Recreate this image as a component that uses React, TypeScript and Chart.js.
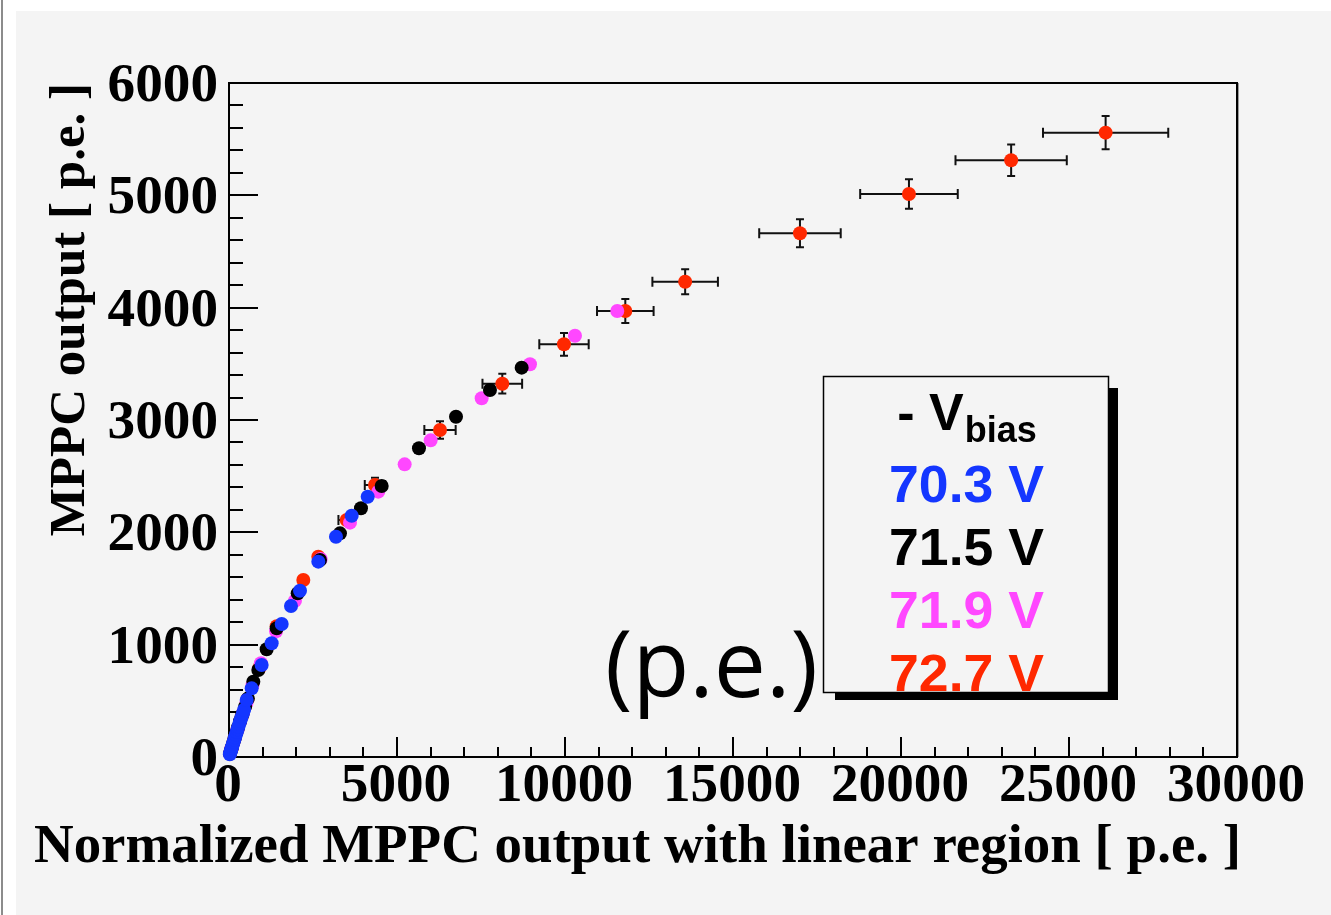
import React, { useEffect, useRef } from "react";
import { Chart, registerables } from "chart.js";

Chart.register(...registerables);

// ---- data ----
const blueX = [25, 40, 55, 70, 85, 100, 120, 140, 160, 180, 205, 230, 255, 280, 310, 340, 375, 410, 450, 526, 675, 972, 1270, 1568, 1845, 2113, 2658, 3184, 3651, 4128];
const blueY = [25, 40, 54, 69, 84, 99, 118, 137, 156, 175, 199, 222, 246, 269, 297, 325, 355, 386, 420, 507, 611, 819, 1012, 1184, 1344, 1480, 1739, 1961, 2148, 2317];

const blackX = [30, 60, 90, 130, 170, 220, 270, 330, 400, 480, 560, 724, 873, 1121, 1419, 2044, 2708, 3303, 3928, 4544, 5654, 6756, 7767, 8710];
const blackY = [30, 59, 89, 128, 167, 215, 262, 318, 378, 448, 520, 670, 774, 959, 1146, 1457, 1754, 1991, 2214, 2412, 2748, 3029, 3267, 3466];

const magentaX = [30, 70, 120, 180, 250, 330, 420, 520, 700, 950, 1400, 1964, 2729, 3601, 4443, 5228, 6002, 7520, 8958, 10297, 11556];
const magentaY = [30, 69, 118, 175, 240, 316, 395, 480, 640, 835, 1120, 1391, 1763, 2086, 2362, 2605, 2819, 3193, 3496, 3750, 3970];

const redX = [30, 80, 150, 250, 380, 550, 900, 1420, 2212, 2658, 3502, 4345, 6280, 8134, 9970, 11795, 13576, 16993, 20237, 23278, 26090];
const redY = [30, 79, 147, 242, 362, 512, 790, 1165, 1576, 1783, 2110, 2421, 2911, 3323, 3674, 3970, 4231, 4662, 5012, 5312, 5558];
const redXErr = [2, 6, 10, 17, 27, 38, 63, 99, 155, 186, 245, 304, 466, 590, 735, 842, 975, 1213, 1452, 1656, 1864];
const redYErr = [1, 2, 4, 7, 10, 14, 22, 32, 43, 48, 57, 65, 77, 88, 101, 107, 111, 125, 132, 141, 148];

const seriesLabels = ["70.3 V", "71.5 V", "71.9 V", "72.7 V"];
const seriesColors = ["#1436ff", "#000000", "#ff47ff", "#ff2800"];

const xRange = [0, 30000];
const yRange = [0, 6000];
const xMajorStep = 5000;
const xMinorStep = 1000;
const yMajorStep = 1000;
const yMinorStep = 200;

const xTitle = "Normalized MPPC output with linear region [ p.e. ]";
const yTitle = "MPPC output [ p.e. ]";
const legendHeader = "- V";
const legendHeaderSub = "bias";
const annotationText = "(p.e.)";

const W = 1331;
const H = 915;
const BG = "#f4f4f4";
const SERIF = "'Liberation Serif', 'Times New Roman', serif";
const SANS = "'Liberation Sans', Arial, Helvetica, sans-serif";

function drawStretched(
  ctx: CanvasRenderingContext2D,
  text: string,
  x: number,
  y: number,
  sx: number,
  align: "left" | "center" | "right"
) {
  ctx.save();
  ctx.textAlign = "left";
  const w = ctx.measureText(text).width * sx;
  const x0 = align === "left" ? x : align === "center" ? x - w / 2 : x - w;
  ctx.translate(x0, y);
  ctx.scale(sx, 1);
  ctx.fillText(text, 0, 0);
  ctx.restore();
}

export default function App() {
  const ref = useRef<HTMLCanvasElement>(null);

  useEffect(() => {
    document.body.style.margin = "0";
    const canvas = ref.current;
    if (!canvas) return;

    const pts = (xs: number[], ys: number[]) => xs.map((x, i) => ({ x, y: ys[i] }));

    const bgPlugin = {
      id: "bg",
      beforeDraw(chart: any) {
        const ctx = chart.ctx;
        ctx.save();
        ctx.fillStyle = "#ffffff";
        ctx.fillRect(0, 0, W, H);
        ctx.fillStyle = BG;
        ctx.fillRect(16, 11, W - 16, H - 11);
        ctx.fillStyle = "#8c8c8c";
        ctx.fillRect(1, 0, 2, H);
        ctx.restore();
      },
    };

    const framePlugin = {
      id: "frame",
      beforeDatasetsDraw(chart: any) {
        const ctx = chart.ctx;
        const xs = chart.scales.x;
        const ys = chart.scales.y;
        const { left, right, top, bottom } = chart.chartArea;
        ctx.save();
        ctx.strokeStyle = "#000";
        ctx.lineWidth = 2;
        ctx.strokeRect(left, top, right - left, bottom - top);
        ctx.strokeStyle = "#9a9a9a";
        ctx.lineWidth = 1;
        ctx.beginPath();
        ctx.moveTo(right + 1.5, top);
        ctx.lineTo(right + 1.5, bottom);
        ctx.stroke();
        // ticks
        ctx.strokeStyle = "#000";
        ctx.lineWidth = 2;
        ctx.beginPath();
        for (let v = xRange[0]; v <= xRange[1]; v += xMinorStep) {
          const px = Math.round(xs.getPixelForValue(v));
          const len = v % xMajorStep === 0 ? 20 : 10;
          ctx.moveTo(px, bottom);
          ctx.lineTo(px, bottom - len);
        }
        for (let v = yRange[0]; v <= yRange[1]; v += yMinorStep) {
          const py = Math.round(ys.getPixelForValue(v));
          const len = v % yMajorStep === 0 ? 29 : 14;
          ctx.moveTo(left, py);
          ctx.lineTo(left + len, py);
        }
        ctx.stroke();

        // error bars for the 72.7 V series
        const r = 7;
        ctx.strokeStyle = "#111";
        ctx.lineWidth = 2;
        redX.forEach((vx, i) => {
          const vy = redY[i];
          const px = xs.getPixelForValue(vx);
          const py = ys.getPixelForValue(vy);
          const x0 = xs.getPixelForValue(vx - redXErr[i]);
          const x1 = xs.getPixelForValue(vx + redXErr[i]);
          const y0 = ys.getPixelForValue(vy - redYErr[i]);
          const y1 = ys.getPixelForValue(vy + redYErr[i]);
          ctx.beginPath();
          if (x1 - px > r) {
            ctx.moveTo(x0, py);
            ctx.lineTo(x1, py);
            ctx.moveTo(x0, py - 5);
            ctx.lineTo(x0, py + 5);
            ctx.moveTo(x1, py - 5);
            ctx.lineTo(x1, py + 5);
          }
          if (y0 - py > r) {
            ctx.moveTo(px, y0);
            ctx.lineTo(px, y1);
            ctx.moveTo(px - 4, y0);
            ctx.lineTo(px + 4, y0);
            ctx.moveTo(px - 4, y1);
            ctx.lineTo(px + 4, y1);
          }
          ctx.stroke();
        });
        ctx.restore();
      },
    };

    const overlayPlugin = {
      id: "overlay",
      afterDraw(chart: any) {
        const ctx = chart.ctx;
        const xs = chart.scales.x;
        const ys = chart.scales.y;
        const { left, right, bottom } = chart.chartArea;
        ctx.save();
        ctx.fillStyle = "#000";

        // tick labels (from the library's ticks), wide bold serif
        ctx.font = `bold 54px ${SERIF}`;
        const sxTick = 138 / ctx.measureText("30000").width;
        ctx.textBaseline = "middle";
        xs.ticks.forEach((t: any) => {
          drawStretched(ctx, String(t.value), xs.getPixelForValue(t.value) - 1, bottom + 30, sxTick, "center");
        });
        ys.ticks.forEach((t: any) => {
          drawStretched(ctx, String(t.value), left - 11, ys.getPixelForValue(t.value) + 4, sxTick, "right");
        });

        // x-axis title, right aligned at the axis end
        ctx.textBaseline = "alphabetic";
        ctx.font = `bold 54px ${SERIF}`;
        const sxTitle = 1207 / ctx.measureText(xTitle).width;
        drawStretched(ctx, xTitle, right + 4, 862, sxTitle, "right");

        // big annotation text
        ctx.font = "400 93px 'Open Sans', 'DejaVu Sans', sans-serif";
        ctx.textAlign = "left";
        ctx.fillText(annotationText, 605, 697);

        // legend box with shadow
        const bx = 823, by = 376, bw = 285, bh = 316;
        ctx.fillStyle = "#000";
        ctx.fillRect(bx + 12, by + 12, bw - 2, bh - 4);
        ctx.fillStyle = BG;
        ctx.fillRect(bx, by, bw, bh);
        ctx.strokeStyle = "#000";
        ctx.lineWidth = 1.5;
        ctx.strokeRect(bx + 0.5, by + 0.5, bw, bh);

        const cx = bx + bw / 2 + 1;
        ctx.font = `bold 52px ${SANS}`;
        const w1 = ctx.measureText(legendHeader).width;
        ctx.font = `bold 36px ${SANS}`;
        const w2 = ctx.measureText(legendHeaderSub).width;
        const startX = cx - (w1 + w2) / 2;
        ctx.textAlign = "left";
        ctx.fillStyle = "#000";
        ctx.font = `bold 52px ${SANS}`;
        ctx.fillText(legendHeader, startX, 430);
        ctx.font = `bold 36px ${SANS}`;
        ctx.fillText(legendHeaderSub, startX + w1 + 1, 442);

        ctx.font = `bold 52px ${SANS}`;
        const sxLeg = 1.03;
        const baselines = [502, 565, 628, 691];
        seriesLabels.forEach((lab, i) => {
          ctx.fillStyle = seriesColors[i];
          drawStretched(ctx, lab, cx, baselines[i], sxLeg, "center");
        });
        ctx.restore();
      },
    };

    const mk = (xs: number[], ys: number[], i: number) => ({
      label: seriesLabels[i],
      data: pts(xs, ys),
      backgroundColor: seriesColors[i],
      borderColor: seriesColors[i],
      borderWidth: 0,
      pointRadius: 7,
      pointHoverRadius: 7,
      showLine: false,
      clip: false as any,
    });

    const chart = new Chart(canvas, {
      type: "scatter",
      data: {
        datasets: [
          mk(blueX, blueY, 0),
          mk(blackX, blackY, 1),
          mk(magentaX, magentaY, 2),
          mk(redX, redY, 3),
        ],
      },
      options: {
        responsive: false,
        devicePixelRatio: 1,
        animation: false,
        events: [],
        layout: { padding: { left: 0, top: 83, right: 94, bottom: 0 } },
        plugins: { legend: { display: false }, tooltip: { enabled: false }, title: { display: false } },
        scales: {
          x: {
            type: "linear",
            min: xRange[0],
            max: xRange[1],
            grid: { display: false },
            border: { display: false },
            ticks: { stepSize: xMajorStep, autoSkip: false, display: false },
            title: { display: false },
            afterFit: (s: any) => {
              s.height = 158;
            },
          },
          y: {
            type: "linear",
            min: yRange[0],
            max: yRange[1],
            grid: { display: false },
            border: { display: false },
            ticks: { stepSize: yMajorStep, autoSkip: false, display: false },
            title: {
              display: true,
              text: yTitle,
              align: "end",
              color: "#000",
              font: { family: SERIF, weight: "bold", size: 51 },
              padding: { top: 40, bottom: 0 },
            },
            afterFit: (s: any) => {
              s.width = 229;
            },
          },
        },
      },
      plugins: [bgPlugin, framePlugin, overlayPlugin],
    });

    return () => chart.destroy();
  }, []);

  return (
    <div style={{ position: "fixed", left: 0, top: 0, width: W, height: H }}>
      <canvas ref={ref} width={W} height={H} style={{ display: "block", width: W, height: H }} />
    </div>
  );
}
